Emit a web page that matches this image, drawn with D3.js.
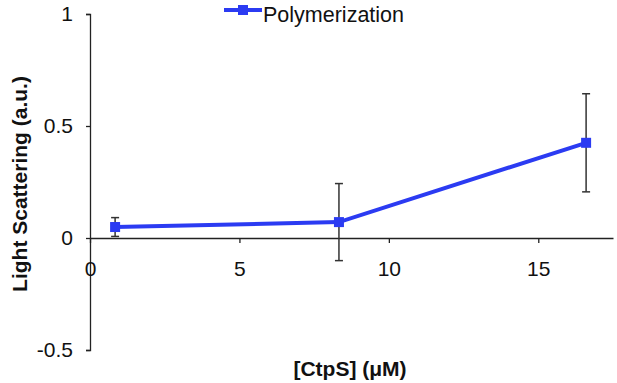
<!DOCTYPE html>
<html>
<head>
<meta charset="utf-8">
<script src="https://cdn.jsdelivr.net/npm/d3@7"></script>
<style>
  body { margin: 0; background: #fff; }
  svg { display: block; font-family: "Liberation Sans", Arial, sans-serif; }
</style>
</head>
<body>
<div id="chart"></div>
<script>
// data
var concentrations = [0.84, 8.33, 16.6];
var scattering = [0.049, 0.071, 0.425];
var errors = [0.042, 0.172, 0.219];
var xTicks = [0, 5, 10, 15];
var yTicks = [-0.5, 0, 0.5, 1];
var seriesName = "Polymerization";

var data = concentrations.map(function(c, i) {
  return {x: c, y: scattering[i], err: errors[i]};
});

var width = 617, height = 383;
var blue = "#2b3bf2";

var svg = d3.select("#chart").append("svg")
  .attr("width", width)
  .attr("height", height);

var x = d3.scaleLinear().domain([0, 17.5]).range([90, 613]);
var y = d3.scaleLinear().domain([-0.5, 1]).range([350, 14]);

// y axis at x = 0
var yAxis = d3.axisLeft(y)
  .tickValues(yTicks)
  .tickSize(4)
  .tickPadding(13)
  .tickFormat(function(d) { return d; });

svg.append("g")
  .attr("transform", "translate(" + x(0) + ",0)")
  .call(yAxis)
  .call(function(g) {
    g.select(".domain").attr("stroke", "#222").attr("stroke-width", 1.3);
    g.selectAll(".tick line").attr("stroke", "#222").attr("stroke-width", 1.3);
    g.selectAll(".tick text").attr("font-size", 21).attr("fill", "#111");
  });

// x axis crossing at y = 0
var xAxis = d3.axisBottom(x)
  .tickValues(xTicks)
  .tickSize(5)
  .tickPadding(18)
  .tickSizeOuter(0);

svg.append("g")
  .attr("transform", "translate(0," + y(0) + ")")
  .call(xAxis)
  .call(function(g) {
    g.select(".domain").attr("stroke", "#222").attr("stroke-width", 1.3);
    g.selectAll(".tick line").attr("stroke", "#222").attr("stroke-width", 1.3);
    g.selectAll(".tick text").attr("font-size", 21).attr("fill", "#111");
  });

// error bars
var eb = svg.append("g").attr("stroke", "#333").attr("stroke-width", 1.5);
data.forEach(function(d) {
  eb.append("line")
    .attr("x1", x(d.x)).attr("x2", x(d.x))
    .attr("y1", y(d.y - d.err)).attr("y2", y(d.y + d.err));
  [d.y - d.err, d.y + d.err].forEach(function(v) {
    eb.append("line")
      .attr("x1", x(d.x) - 4).attr("x2", x(d.x) + 4)
      .attr("y1", y(v)).attr("y2", y(v));
  });
});

var line = d3.line()
  .x(function(d) { return x(d.x); })
  .y(function(d) { return y(d.y); });

svg.append("path")
  .datum(data)
  .attr("fill", "none")
  .attr("stroke", blue)
  .attr("stroke-width", 4)
  .attr("d", line);

svg.selectAll(".pt")
  .data(data)
  .enter().append("rect")
  .attr("class", "pt")
  .attr("x", function(d) { return x(d.x) - 5; })
  .attr("y", function(d) { return y(d.y) - 5; })
  .attr("width", 10)
  .attr("height", 10)
  .attr("fill", blue);

// legend
var lg = svg.append("g");
lg.append("line")
  .attr("x1", 224).attr("x2", 262)
  .attr("y1", 10).attr("y2", 10)
  .attr("stroke", blue).attr("stroke-width", 4);
lg.append("rect")
  .attr("x", 238).attr("y", 5).attr("width", 10).attr("height", 10)
  .attr("fill", blue);
lg.append("text")
  .attr("x", 263).attr("y", 22)
  .attr("font-size", 21.5)
  .attr("fill", "#111")
  .text(seriesName);

// axis titles
svg.append("text")
  .attr("transform", "translate(20,184) rotate(-90)")
  .attr("text-anchor", "middle")
  .attr("dy", "0.35em")
  .attr("font-size", 21)
  .attr("font-weight", "bold")
  .attr("fill", "#111")
  .text("Light Scattering (a.u.)");

svg.append("text")
  .attr("x", 350).attr("y", 369)
  .attr("text-anchor", "middle")
  .attr("dy", "0.35em")
  .attr("font-size", 21)
  .attr("font-weight", "bold")
  .attr("fill", "#111")
  .text("[CtpS] (μM)");
</script>
</body>
</html>
